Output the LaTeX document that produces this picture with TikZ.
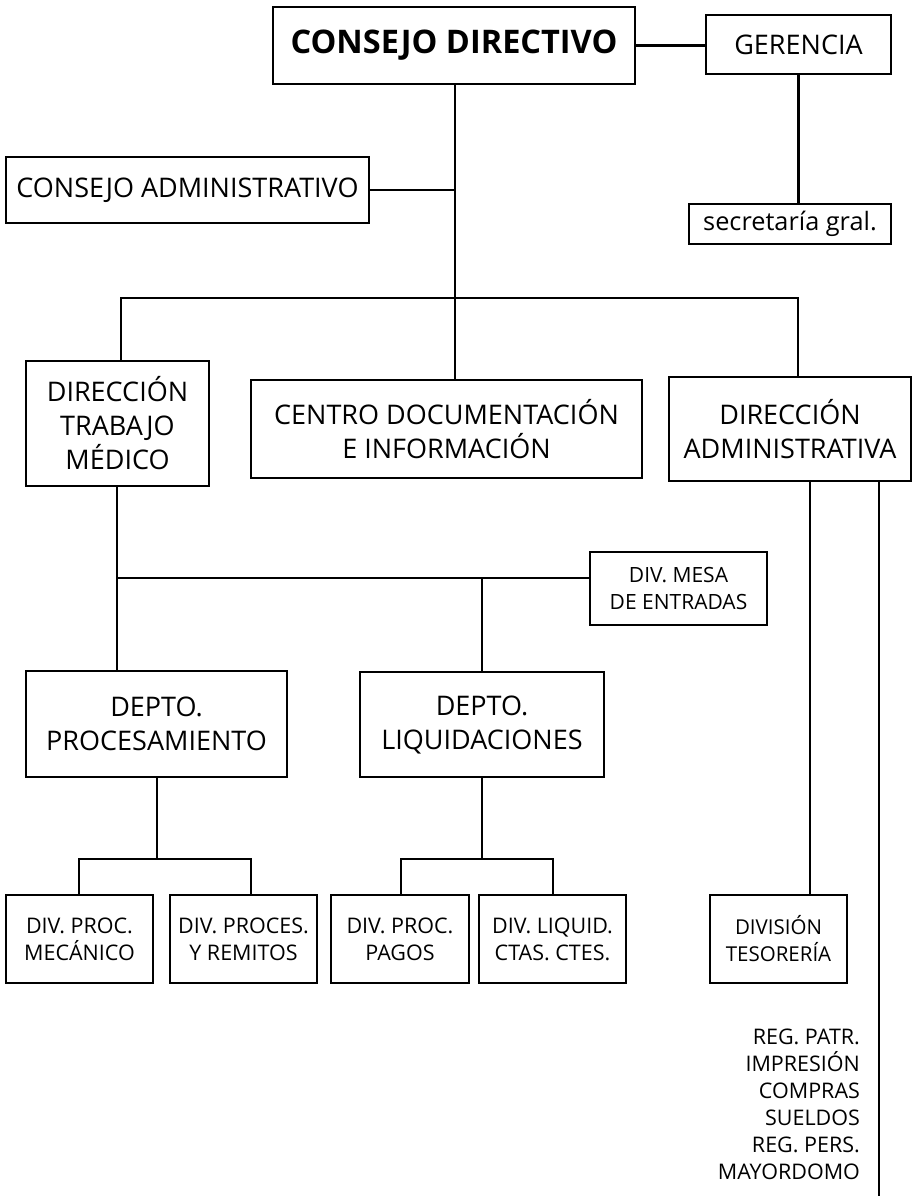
\documentclass[tikz,border=0pt]{standalone}
\usepackage{fontspec}
\setmainfont{Open Sans}
\begin{document}
\begin{tikzpicture}[x=1pt,y=-1pt,
  line width=2.2pt, line cap=rect,
  box/.style={draw=black, line width=2.5pt, inner sep=0pt, align=center, anchor=center},
  big/.style={font=\fontsize{27}{34}\selectfont},
  mid/.style={font=\fontsize{21}{27}\selectfont},
  sm/.style={font=\fontsize{21.5}{27}\selectfont},
  conn/.style={draw=black, line width=2.2pt}]
\useasboundingbox (0,0) rectangle (912,1197);
% boxes
\node[box, minimum width=362pt, minimum height=77pt, font=\fontsize{32.5}{38}\selectfont\bfseries] (cd) at (454,45.5) {CONSEJO DIRECTIVO};
\node[box, big, minimum width=185pt, minimum height=59pt] (ger) at (798.5,44.5) {GERENCIA};
\node[box, font=\fontsize{25.3}{30}\selectfont, minimum width=202pt, minimum height=40pt] (sec) at (790,224) {secretaría gral.};
\node[box, big, minimum width=363pt, minimum height=66pt] (cadm) at (187.5,190) {CONSEJO ADMINISTRATIVO};
\node[box, big, minimum width=183pt, minimum height=125pt] (dtm) at (117.5,423.5) {DIRECCIÓN\\TRABAJO\\MÉDICO};
\node[box, big, minimum width=391pt, minimum height=98pt] (cdi) at (446.5,429) {CENTRO DOCUMENTACIÓN\\E INFORMACIÓN};
\node[box, big, minimum width=242pt, minimum height=104pt] (da) at (790,429) {DIRECCIÓN\\ADMINISTRATIVA};
\node[box, mid, minimum width=177pt, minimum height=73pt] (mesa) at (678.5,588.5) {DIV. MESA\\DE ENTRADAS};
\node[box, big, minimum width=261pt, minimum height=106pt] (dp) at (156.5,724) {DEPTO.\\PROCESAMIENTO};
\node[box, big, minimum width=244pt, minimum height=105pt] (dl) at (482,724.5) {DEPTO.\\LIQUIDACIONES};
\node[box, sm, minimum width=147pt, minimum height=88pt] (b1) at (79.5,939) {DIV. PROC.\\MECÁNICO};
\node[box, sm, minimum width=147pt, minimum height=88pt] (b2) at (243.5,939) {DIV. PROCES.\\Y REMITOS};
\node[box, sm, minimum width=138pt, minimum height=88pt] (b3) at (400,939) {DIV. PROC.\\PAGOS};
\node[box, sm, minimum width=147pt, minimum height=88pt] (b4) at (552.5,939) {DIV. LIQUID.\\CTAS. CTES.};
\node[box, font=\fontsize{20.5}{27}\selectfont, minimum width=137pt, minimum height=88pt] (tes) at (778.5,939) {DIVISIÓN\\TESORERÍA};
\node[sm, align=right, anchor=north east, inner sep=0pt] (list) at (861,1028) {REG. PATR.\\IMPRESIÓN\\COMPRAS\\SUELDOS\\REG. PERS.\\MAYORDOMO};
% junction coordinates
\coordinate (bus) at (455,298);
\coordinate (busL) at (121,298);
\coordinate (busR) at (798,298);
\coordinate (j2) at (117,578);
\coordinate (j3) at (482,578);
\coordinate (j4) at (157,859);
\coordinate (j4L) at (79,859);
\coordinate (j4R) at (251,859);
\coordinate (j5) at (482,859);
\coordinate (j5L) at (401,859);
\coordinate (j5R) at (553,859);
\coordinate (daL) at (810,481);
\coordinate (daR) at (879,481);
\coordinate (endR) at (879,1195);
% connectors
\draw[conn] (cd.east) -- (cd.east -| ger.west);
\draw[conn] (ger.south) -- (ger.south |- sec.north);
\draw[conn] (bus |- cd.south) -- (bus);
\draw[conn] (cadm.east) -- (cadm.east -| bus);
\draw[conn] (busL) -- (busR);
\draw[conn] (busL) -- (busL |- dtm.north);
\draw[conn] (bus) -- (bus |- cdi.north);
\draw[conn] (busR) -- (busR |- da.north);
\draw[conn] (j2 |- dtm.south) -- (j2 |- dp.north);
\draw[conn] (j2) -- (j2 -| mesa.west);
\draw[conn] (j3) -- (j3 |- dl.north);
\draw[conn] (j4 |- dp.south) -- (j4);
\draw[conn] (j4L) -- (j4R);
\draw[conn] (j4L) -- (j4L |- b1.north);
\draw[conn] (j4R) -- (j4R |- b2.north);
\draw[conn] (j5 |- dl.south) -- (j5);
\draw[conn] (j5L) -- (j5R);
\draw[conn] (j5L) -- (j5L |- b3.north);
\draw[conn] (j5R) -- (j5R |- b4.north);
\draw[conn] (daL) -- (daL |- tes.north);
\draw[conn] (daR) -- (endR);
\end{tikzpicture}
\end{document}
